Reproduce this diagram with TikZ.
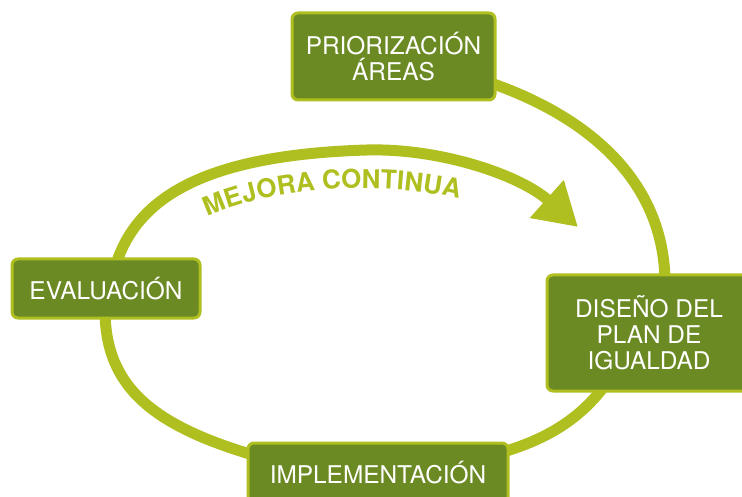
\documentclass[tikz,border=0pt]{standalone}
\usepackage{fontspec}
\setmainfont{TeX Gyre Heros}
\usepackage{tikz}
\usetikzlibrary{calc,arrows.meta,backgrounds,decorations.text}
\definecolor{verdeoscuro}{HTML}{6B8A23}
\definecolor{verdeclaro}{HTML}{AEBF1F}
\tikzset{
	caja/.style={draw=verdeclaro, line width=3pt, fill=verdeoscuro, rounded corners=6pt, text=white, align=center, font=\fontsize{24.4}{26}\selectfont, inner sep=2pt},
	anillo/.style={draw=verdeclaro, line width=11pt},
}

\begin{document}
\begin{tikzpicture}[x=1pt, y=1pt]
			%%%%% START %%%%%
			
			\useasboundingbox (0, 0) rectangle (742, -497);
			\clip (0, 0) rectangle (742, -497);
			
			\node[caja, minimum width=203pt, minimum height=87pt] (prio) at (393.5, -56.5) {PRIORIZACIÓN\\ÁREAS};
			\node[caja, minimum width=204pt, minimum height=116pt] (dise) at (649, -333) {DISEÑO DEL\\PLAN DE\\IGUALDAD};
			\node[caja, minimum width=260pt, minimum height=60pt] (impl) at (378, -473) {IMPLEMENTACIÓN};
			\node[caja, minimum width=188pt, minimum height=59pt] (eval) at (106, -288.5) {EVALUACIÓN};
			
			\coordinate (punta) at (578, -227);
			
			\begin{pgfonlayer}{background}
				\draw[anillo] ($(prio.east)+(-10, -25)$) .. controls (600, -120) and (665, -190) .. ($(dise.north)+(16, -10)$);
				\draw[anillo] ($(dise.south)+(-42, 10)$) .. controls (580, -420) and (545, -440) .. ($(impl.east)+(-10, 20)$);
				\draw[anillo] ($(impl.west)+(10, 17)$) .. controls (150, -425) and (105, -385) .. ($(eval.south)+(-1, 10)$);
				
				\draw[anillo, -{Triangle[length=42pt, width=48pt]}] ($(eval.north)+(9, -10)$) .. controls (135, -200) and (200, -155) .. (367, -150) .. controls (440, -148) and (520, -175) .. (punta);
			\end{pgfonlayer}
			
			\path[decorate, decoration={text along path, text color=verdeclaro, text align=center, text={|\bfseries\fontsize{26}{26}\selectfont|MEJORA CONTINUA}}] (205, -218) .. controls (270, -186) and (390, -180) .. (462, -200);
			
			%%%%% END %%%%%
\end{tikzpicture}
\end{document}
